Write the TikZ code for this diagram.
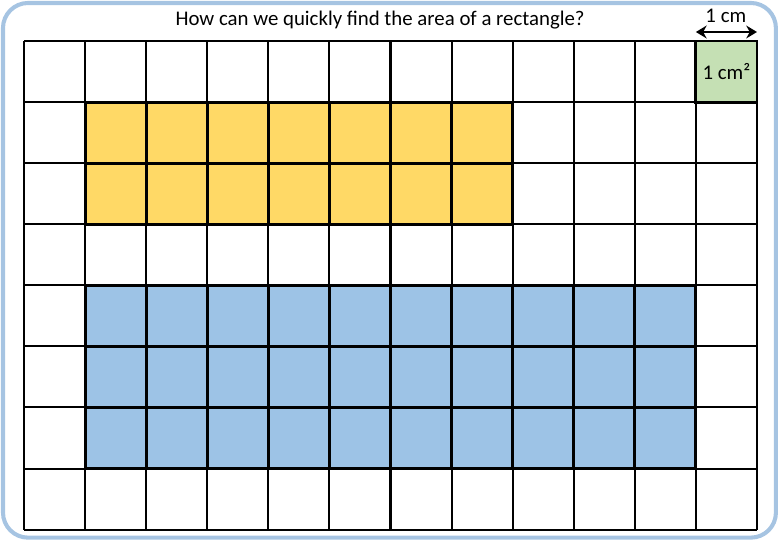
\documentclass[tikz,border=0pt]{standalone}
\usepackage{fontspec}
\setmainfont{Carlito}
\usetikzlibrary{arrows.meta}
\definecolor{frameblue}{RGB}{166,196,226}
\definecolor{rectyellow}{RGB}{255,217,102}
\definecolor{rectblue}{RGB}{157,195,230}
\definecolor{unitgreen}{RGB}{197,224,180}
\begin{document}
\begin{tikzpicture}[node font=\fontsize{9.7}{11}\selectfont,
  gridline/.style={line width=0.95pt},
  rectline/.style={line width=1.35pt}]
  \useasboundingbox (-0.393,-0.17) rectangle (12.377,8.671);
  % frame
  \draw [frameblue, line width=1.9pt, rounded corners=0.41cm]
    (-0.344,-0.131) rectangle (12.31,8.622);
  % coloured rectangles
  \fill [rectyellow] (1,5) rectangle (8,7);
  \fill [rectblue] (1,1) rectangle (11,4);
  \fill [unitgreen] (11,7) rectangle (12,8);
  % grid
  \draw [gridline, step=1] (0,0) grid (12,8);
  \draw [rectline, step=1] (1,5) grid (8,7);
  \draw [rectline, step=1] (1,1) grid (11,4);
  \draw [rectline] (11,7) rectangle (12,8) node [midway] (cm2) {1 cm²};
  % unit length
  \coordinate (ua) at (11,8.147);
  \coordinate (ub) at (12,8.147);
  \draw [line width=1.1pt, {Stealth[length=5pt,width=6pt]}-{Stealth[length=5pt,width=6pt]}]
    (ua) -- (ub);
  % labels
  \node (cm) at (11.49,8.41) {1 cm};
  \node (title) at (5.83,8.344) {How can we quickly find the area of a rectangle?};
\end{tikzpicture}
\end{document}
